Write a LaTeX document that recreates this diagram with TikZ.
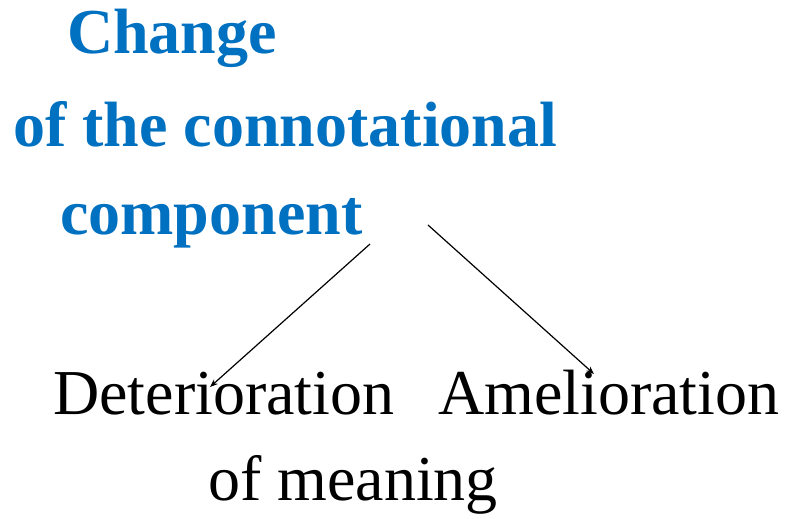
\documentclass[tikz,border=0pt]{standalone}
\usepackage{fontspec}
\setmainfont{Liberation Serif}
\usetikzlibrary{arrows.meta}
\definecolor{titleblue}{HTML}{0070C0}
\begin{document}
\begin{tikzpicture}[x=1pt,y=-1pt,
  titletext/.style={anchor=base west,inner sep=0pt,text=titleblue,font=\fontsize{64}{64}\selectfont\bfseries},
  leaftext/.style={anchor=base west,inner sep=0pt,text=black,font=\fontsize{64}{64}\selectfont},
  link/.style={draw=black,line width=1.2pt,-{Stealth[length=8pt,width=6pt]}}]
\useasboundingbox (0,0) rectangle (792,519);
\node[titletext] (t1) at (67,53) {Change};
\node[titletext] (t2) at (13,146) {of the connotational};
\node[titletext] (t3) at (60,234) {component};
\node[leaftext] (det) at (53,414) {Deterioration};
\node[leaftext] (ame) at (438,414) {Amelioration};
\node[leaftext] (mea) at (208,500) {of meaning};
\coordinate (s1) at (370,244);
\coordinate (e1) at (210,387);
\coordinate (s2) at (428,225);
\coordinate (e2) at (594,374);
\draw[link] (s1) -- (e1);
\draw[link] (s2) -- (e2);
\end{tikzpicture}
\end{document}
